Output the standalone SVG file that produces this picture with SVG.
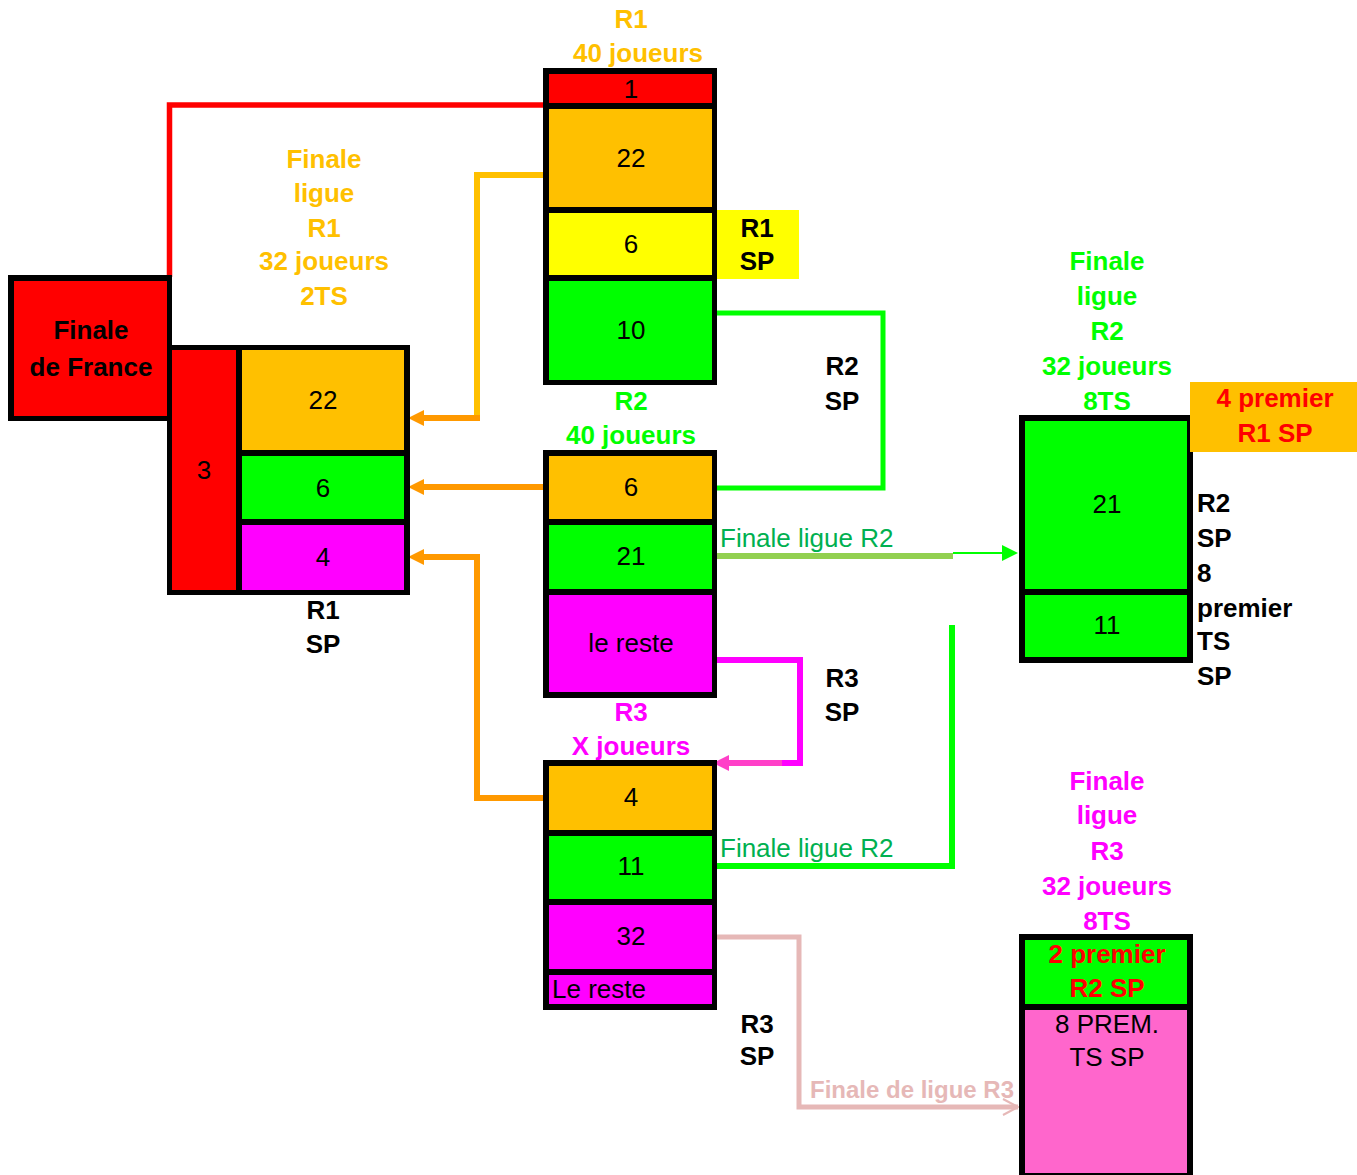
<svg xmlns="http://www.w3.org/2000/svg" width="1357" height="1175" viewBox="0 0 1357 1175">
<style>
text{font-family:"Liberation Sans",Arial,sans-serif;font-size:26px}
.b{font-weight:bold}
.c{text-anchor:middle}
.k{fill:#000}
.org{fill:#FFC000}
.grn{fill:#00FF00}
.mag{fill:#FF00FF}
.red{fill:#FF0000}
.frame{fill:#000}
.line{fill:none;stroke-linejoin:miter}
</style>
<defs>
<marker id="aOrange" markerUnits="userSpaceOnUse" markerWidth="16" markerHeight="16" refX="10" refY="8" orient="auto"><path d="M0,0 L16,8 L0,16 z" fill="#FF9900"/></marker>
<marker id="aGreen" markerUnits="userSpaceOnUse" markerWidth="16" markerHeight="16" refX="8" refY="8" orient="auto"><path d="M0,0 L16,8 L0,16 z" fill="#00FF00"/></marker>
<marker id="aPink" markerUnits="userSpaceOnUse" markerWidth="16" markerHeight="16" refX="7" refY="8" orient="auto"><path d="M0,0 L16,8 L0,16 z" fill="#FF40C8"/></marker>
<marker id="aRose" markerUnits="userSpaceOnUse" markerWidth="18" markerHeight="18" refX="16" refY="9" orient="auto"><path d="M1,1 L16,9 L1,17" fill="none" stroke="#E6B8B7" stroke-width="2"/></marker>
</defs>
<rect width="1357" height="1175" fill="#fff"/>

<g id="connectors">
<polyline class="line" points="545,105 169.5,105 169.5,277" stroke="#FF0000" stroke-width="5.5"/>
<polyline class="line" points="543,175 477,175 477,418" stroke="#FFC000" stroke-width="6"/>
<line x1="480" y1="418" x2="414" y2="418" stroke="#FF9900" stroke-width="6" marker-end="url(#aOrange)"/>
<line x1="543" y1="487" x2="414" y2="487" stroke="#FF9900" stroke-width="6" marker-end="url(#aOrange)"/>
<polyline class="line" points="543,798 477,798 477,557 414,557" stroke="#FF9900" stroke-width="6" marker-end="url(#aOrange)"/>
<polyline class="line" points="717,313 883,313 883,488 717,488" stroke="#00FF00" stroke-width="5"/>
<line x1="717" y1="556" x2="953" y2="556" stroke="#92D050" stroke-width="6"/>
<line x1="953" y1="553" x2="1010" y2="553" stroke="#00FF00" stroke-width="2" marker-end="url(#aGreen)"/>
<polyline class="line" points="717,866 952,866 952,625" stroke="#00FF00" stroke-width="6"/>
<polyline class="line" points="717,660 800,660 800,763 782,763" stroke="#FF00FF" stroke-width="6"/>
<line x1="782" y1="763" x2="722" y2="763" stroke="#FF40C8" stroke-width="6" marker-end="url(#aPink)"/>
<polyline class="line" points="717,937 799,937 799,1107 1018,1107" stroke="#E6B8B7" stroke-width="5" marker-end="url(#aRose)"/>
<text x="720" y="547" fill="#00B050">Finale ligue R2</text>
<text x="720" y="857" fill="#00B050">Finale ligue R2</text>
<text x="810" y="1098" class="b" style="font-size:24px" fill="#E6B8B7">Finale de ligue R3</text>
</g>

<g id="r1-column">
<text x="631" y="28" class="b c org">R1</text>
<text x="638" y="62" class="b c org">40 joueurs</text>
<rect class="frame" x="543" y="68" width="174" height="317"/>
<rect x="549" y="74" width="163" height="29" fill="#FF0000"/>
<rect x="549" y="109" width="163" height="98" fill="#FFC000"/>
<rect x="549" y="213" width="163" height="62" fill="#FFFF00"/>
<rect x="549" y="281" width="163" height="99" fill="#00FF00"/>
<text x="631" y="98" class="c k">1</text>
<text x="631" y="167" class="c k">22</text>
<text x="631" y="253" class="c k">6</text>
<text x="631" y="339" class="c k">10</text>
</g>

<g id="r1-sp-tag">
<rect x="717" y="210" width="82" height="69" fill="#FFFF00"/>
<text x="757" y="237" class="b c k">R1</text>
<text x="757" y="270" class="b c k">SP</text>
</g>

<g id="finale-ligue-r1">
<text x="324" y="168" class="b c org">Finale</text>
<text x="324" y="202" class="b c org">ligue</text>
<text x="324" y="237" class="b c org">R1</text>
<text x="324" y="270" class="b c org">32 joueurs</text>
<text x="324" y="305" class="b c org">2TS</text>
<rect class="frame" x="167" y="345" width="243" height="250"/>
<rect x="172" y="350" width="64" height="240" fill="#FF0000"/>
<rect x="242" y="350" width="162" height="100" fill="#FFC000"/>
<rect x="242" y="456" width="162" height="63" fill="#00FF00"/>
<rect x="242" y="525" width="162" height="65" fill="#FF00FF"/>
<text x="204" y="479" class="c k">3</text>
<text x="323" y="409" class="c k">22</text>
<text x="323" y="497" class="c k">6</text>
<text x="323" y="566" class="c k">4</text>
<text x="323" y="619" class="b c k">R1</text>
<text x="323" y="653" class="b c k">SP</text>
</g>

<g id="finale-de-france">
<rect class="frame" x="8" y="275" width="164" height="146"/>
<rect x="14" y="281" width="153" height="135" fill="#FF0000"/>
<text x="91" y="339" class="b c k">Finale</text>
<text x="91" y="376" class="b c k">de France</text>
</g>

<g id="r2-column">
<text x="631" y="410" class="b c grn">R2</text>
<text x="631" y="444" class="b c grn">40 joueurs</text>
<rect class="frame" x="543" y="450" width="174" height="248"/>
<rect x="549" y="456" width="163" height="63" fill="#FFC000"/>
<rect x="549" y="525" width="163" height="64" fill="#00FF00"/>
<rect x="549" y="595" width="163" height="97" fill="#FF00FF"/>
<text x="631" y="496" class="c k">6</text>
<text x="631" y="565" class="c k">21</text>
<text x="631" y="652" class="c k">le reste</text>
</g>

<g id="r2-sp-label">
<text x="842" y="375" class="b c k">R2</text>
<text x="842" y="410" class="b c k">SP</text>
</g>

<g id="r3-sp-label">
<text x="842" y="687" class="b c k">R3</text>
<text x="842" y="721" class="b c k">SP</text>
</g>

<g id="r3-column">
<text x="631" y="721" class="b c mag">R3</text>
<text x="631" y="755" class="b c mag">X joueurs</text>
<rect class="frame" x="543" y="760" width="174" height="250"/>
<rect x="549" y="766" width="163" height="64" fill="#FFC000"/>
<rect x="549" y="836" width="163" height="63" fill="#00FF00"/>
<rect x="549" y="905" width="163" height="64" fill="#FF00FF"/>
<rect x="549" y="975" width="163" height="29" fill="#FF00FF"/>
<text x="631" y="806" class="c k">4</text>
<text x="631" y="875" class="c k">11</text>
<text x="631" y="945" class="c k">32</text>
<text x="552" y="998" class="k">Le reste</text>
</g>

<g id="r3-sp-label-2">
<text x="757" y="1033" class="b c k">R3</text>
<text x="757" y="1065" class="b c k">SP</text>
</g>

<g id="finale-ligue-r2">
<text x="1107" y="270" class="b c grn">Finale</text>
<text x="1107" y="305" class="b c grn">ligue</text>
<text x="1107" y="340" class="b c grn">R2</text>
<text x="1107" y="375" class="b c grn">32 joueurs</text>
<text x="1107" y="410" class="b c grn">8TS</text>
<rect class="frame" x="1019" y="415" width="174" height="248"/>
<rect x="1025" y="421" width="162" height="168" fill="#00FF00"/>
<rect x="1025" y="595" width="162" height="62" fill="#00FF00"/>
<text x="1107" y="513" class="c k">21</text>
<text x="1107" y="634" class="c k">11</text>
<text x="1197" y="512" class="b k">R2</text>
<text x="1197" y="547" class="b k">SP</text>
<text x="1197" y="582" class="b k">8</text>
<text x="1197" y="617" class="b k">premier</text>
<text x="1197" y="650" class="b k">TS</text>
<text x="1197" y="685" class="b k">SP</text>
</g>

<g id="r1-sp-tag-2">
<rect x="1190" y="382" width="167" height="70" fill="#FFC000"/>
<text x="1275" y="407" class="b c red">4 premier</text>
<text x="1275" y="442" class="b c red">R1 SP</text>
</g>

<g id="finale-ligue-r3">
<text x="1107" y="790" class="b c mag">Finale</text>
<text x="1107" y="824" class="b c mag">ligue</text>
<text x="1107" y="860" class="b c mag">R3</text>
<text x="1107" y="895" class="b c mag">32 joueurs</text>
<text x="1107" y="930" class="b c mag">8TS</text>
<rect class="frame" x="1019" y="934" width="174" height="247"/>
<rect x="1025" y="940" width="162" height="64" fill="#00FF00"/>
<rect x="1025" y="1010" width="162" height="163" fill="#FF66CC"/>
<text x="1107" y="963" class="b c red">2 premier</text>
<text x="1107" y="997" class="b c red">R2 SP</text>
<text x="1107" y="1033" class="c k">8 PREM.</text>
<text x="1107" y="1066" class="c k">TS SP</text>
</g>
</svg>
